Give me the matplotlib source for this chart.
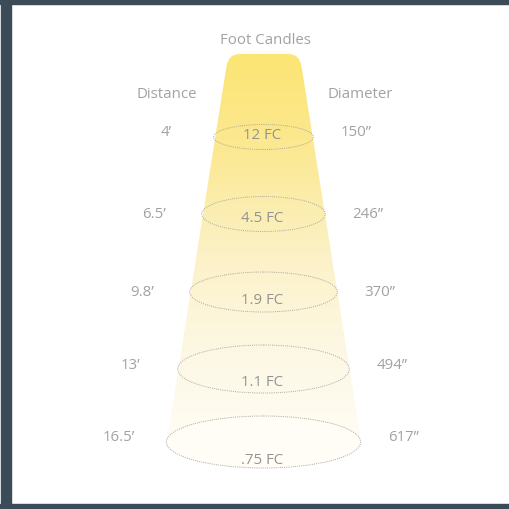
import numpy as np
import matplotlib.pyplot as plt
from matplotlib.path import Path
from matplotlib.patches import PathPatch, Ellipse, Rectangle
import matplotlib.colors as mcolors

plt.rcParams['font.family'] = ['Open Sans', 'DejaVu Sans']

# Chart values
distances = ["4\u2019", "6.5\u2019", "9.8\u2019", "13\u2019", "16.5\u2019"]
diameters = ["150\u201d", "246\u201d", "370\u201d", "494\u201d", "617\u201d"]
foot_candles = ["12 FC", "4.5 FC", "1.9 FC", "1.1 FC", ".75 FC"]

# Layout (pixel space, y down)
W, H = 509, 510
cx = 264
top_y, top_half = 55, 37
slope = 0.155
ring_y = [138, 215, 293, 370, 443]
ring_h = [25, 35, 40, 48, 52]
side_dy = [-5, 0, 0, -4, -5]
fc_dy = [-2, 4, 8, 13, 18]
text_col = "#a2a2a2"
fc_col = "#939393"
border_col = "#3b4c58"
fs = 10.8

def half_width(y):
    return top_half + slope * (y - top_y)

fig = plt.figure(figsize=(W / 100, H / 100), dpi=100)
ax = fig.add_axes([0, 0, 1, 1])
ax.set_xlim(0, W)
ax.set_ylim(H, 0)
ax.axis('off')

# frame
ax.add_patch(Rectangle((0, 0), W, 5, color=border_col, zorder=5))
ax.add_patch(Rectangle((1, 0), 10, H, color=border_col, zorder=5))
ax.add_patch(Rectangle((0, 505), W, 5, color=border_col, zorder=5))

# beam shape with rounded top corners
bot_y = ring_y[-1]
bw = half_width(bot_y)
r = 13
tl = (cx - top_half, top_y)
tr = (cx + top_half, top_y)
dx = slope * r
verts = [
    (cx - bw, bot_y),
    (tl[0] - dx * 0.3, top_y + r),
    (tl[0] + 1, top_y), (tl[0] + r, top_y),
    (tr[0] - r, top_y),
    (tr[0] - 1, top_y), (tr[0] + dx * 0.3, top_y + r),
    (cx + bw, bot_y),
    (cx - bw, bot_y),
]
codes = [Path.MOVETO, Path.LINETO, Path.CURVE3, Path.CURVE3, Path.LINETO,
         Path.CURVE3, Path.CURVE3, Path.LINETO, Path.CLOSEPOLY]
beam = PathPatch(Path(verts, codes), facecolor='none', edgecolor='none')
ax.add_patch(beam)

cmap = mcolors.LinearSegmentedColormap.from_list(
    "beam", ["#fce573", "#fbe994", "#fcf1c6", "#fdf8e4", "#fffdf6"])
grad = np.linspace(0, 1, 400)[:, None] * np.ones((1, 10))
im = ax.imshow(grad, cmap=cmap, extent=(cx - bw - 2, cx + bw + 2, bot_y + 10, top_y),
               aspect='auto', zorder=1)
im.set_clip_path(beam)

# bottom ellipse filled to finish the beam
ax.add_patch(Ellipse((cx - 1, bot_y), 2 * bw, ring_h[-1],
                     facecolor="#fffdf6", edgecolor='none', zorder=1))

for i in range(len(foot_candles)):
    y = ring_y[i]
    hw = half_width(y)
    ax.add_patch(Ellipse((cx - 0.5, y), 2 * hw, ring_h[i], facecolor='none',
                         edgecolor="#aaa79c", lw=0.7, linestyle=(0, (1, 1.2)),
                         zorder=3))
    ax.text(cx - 2, y + fc_dy[i], foot_candles[i], ha='center', va='center',
            fontsize=fs, color=fc_col, zorder=4)
    ax.text(cx - hw - 48, y + side_dy[i], distances[i], ha='center', va='center',
            fontsize=fs, color=text_col)
    ax.text(cx + hw + 42, y + side_dy[i], diameters[i], ha='center', va='center',
            fontsize=fs, color=text_col)

ax.text(265, 40, "Foot Candles", ha='center', va='center', fontsize=fs, color=text_col)
ax.text(167, 95, "Distance", ha='center', va='center', fontsize=fs, color=text_col)
ax.text(360, 95, "Diameter", ha='center', va='center', fontsize=fs, color=text_col)

fig.savefig("out.png", dpi=100, facecolor='white')
